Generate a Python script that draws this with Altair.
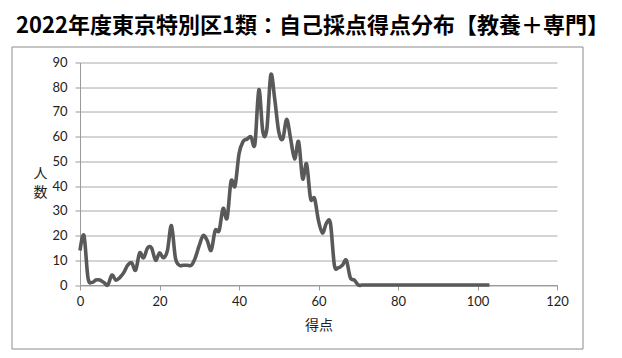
import altair as alt
import pandas as pd

scores = list(range(0, 104))
counts = [14, 20, 3, 1, 2, 2, 1, 0, 4, 2,
          3, 5, 8, 9, 6, 13, 11, 15, 15, 10,
          13, 11, 14, 24, 11, 8, 8, 8, 8, 11,
          16, 20, 18, 14, 22, 22, 31, 27, 42, 40,
          53, 58, 59, 60, 57, 79, 62, 63, 85, 75,
          62, 59, 67, 59, 51, 58, 43, 49, 35, 35,
          26, 21, 25, 25, 8, 7, 8, 10, 3, 2] + [0] * 34
x_ticks = [0, 20, 40, 60, 80, 100, 120]
y_ticks = [0, 10, 20, 30, 40, 50, 60, 70, 80, 90]
title_text = "2022年度東京特別区1類：自己採点得点分布【教養＋専門】"
x_title = "得点"
y_title = ["人", "数"]

df = pd.DataFrame({"score": scores, "count": counts})

W, H = 477, 222.5
GRAY = "#9a9a9a"

frame = alt.Chart(pd.DataFrame({"a": [0]})).mark_rect(
    fillOpacity=0, stroke="#8c8c8c", strokeWidth=1
).encode(
    x=alt.value(-68), x2=alt.value(503), y=alt.value(-15.5), y2=alt.value(286.5)
)

line = alt.Chart(df).mark_line(
    interpolate="cardinal", color="#595959", strokeWidth=3.6
).encode(
    x=alt.X("score:Q", scale=alt.Scale(domain=[0, 120], nice=False, zero=False),
            axis=alt.Axis(values=x_ticks, title=x_title, grid=False,
                          domainColor=GRAY, tickColor=GRAY, tickSize=5,
                          labelFont="Lato", labelFontSize=13, labelColor="#222",
                          labelPadding=5, labelFlush=False,
                          titleFont="Noto Sans CJK JP", titleFontSize=14,
                          titleFontWeight="normal", titleColor="#222",
                          titleY=40, titleBaseline="middle")),
    y=alt.Y("count:Q", scale=alt.Scale(domain=[0, 90], nice=False),
            axis=alt.Axis(values=y_ticks, title=y_title, grid=True, gridColor="#a8a8a8",
                          domainColor=GRAY, tickColor=GRAY, tickSize=5,
                          labelFont="Lato", labelFontSize=13, labelColor="#222",
                          labelPadding=8,
                          titleFont="Noto Sans CJK JP", titleFontSize=14,
                          titleFontWeight="normal", titleColor="#222",
                          titleAngle=0, titleX=-40, titleY=111,
                          titleAlign="center", titleBaseline="middle",
                          titleLineHeight=19)),
)

chart = alt.layer(frame, line).properties(
    width=W, height=H,
    padding={"left": 72, "top": 54.5, "right": 57, "bottom": 65},
    autosize=alt.AutoSizeParams(type="none"),
    title=alt.TitleParams(title_text, font="Noto Sans CJK JP", fontSize=22,
                          fontWeight="bold", color="#000", anchor="middle",
                          dx=-6, dy=-5),
).configure_view(stroke=None)

chart.save("out.html", embed_options={"renderer": "svg", "actions": False})
